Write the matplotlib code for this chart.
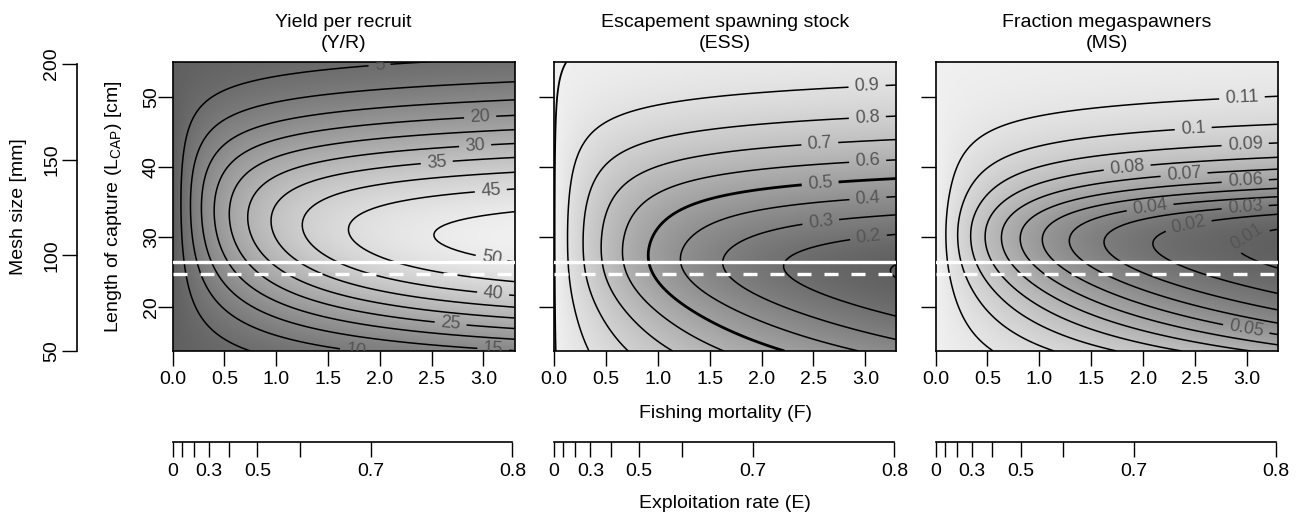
import numpy as np
import matplotlib
matplotlib.use("Agg")
import matplotlib.pyplot as plt
from matplotlib.colors import LinearSegmentedColormap

plt.rcParams['font.family'] = ['Liberation Sans', 'DejaVu Sans']
plt.rcParams['mathtext.fontset'] = 'custom'
plt.rcParams['mathtext.rm'] = 'Liberation Sans'
plt.rcParams['mathtext.it'] = 'Liberation Sans:italic'

# ---------------- data ----------------
F_RANGE = (0.0, 3.3)
L_RANGE = (13.67, 55.0)
F_TICKS = [0.0, 0.5, 1.0, 1.5, 2.0, 2.5, 3.0]
L_TICKS = [20, 30, 40, 50]
MESH_TICKS = [50, 100, 150, 200]
MESH_TO_LCAP = 0.2733
E_TICKS = [0.0, 0.1, 0.2, 0.3, 0.4, 0.5, 0.6, 0.7, 0.8]
E_TICK_LABELS = ['0', '', '', '0.3', '', '0.5', '', '0.7', '0.8']

TITLES = ['Yield per recruit\n(Y/R)',
          'Escapement spawning stock\n(ESS)',
          'Fraction megaspawners\n(MS)']

YR_LEVELS = [5, 10, 15, 20, 25, 30, 35, 40, 45, 50]
ESS_LEVELS = [0.1, 0.2, 0.3, 0.4, 0.5, 0.6, 0.7, 0.8, 0.9]
ESS_EDGE_LEVEL = [0.995]
MS_LEVELS = [0.01, 0.02, 0.03, 0.04, 0.05, 0.06, 0.07, 0.08, 0.09, 0.1, 0.11]

L_SOLID = 26.4      # solid white line (cm)
L_DASHED = 24.7     # dashed white line (cm)

# population model parameters (estimated to reproduce the isopleths)
M_NAT = 0.82        # natural mortality, from the E = F/(F+M) axis
L_INF = 56.5
K_VB = 0.275
T_REC = 0.335
L_MAT = 25.6
SEL_CV_LEFT = 0.065
SEL_CV_RIGHT = 0.145
YR_MAX = 52.2

# ---------------- layout (pixels) ----------------
W_PX, H_PX = 1298, 517
PANEL_X = [(172.5, 514.5), (554.0, 896.5), (935.5, 1278.0)]
PANEL_Y = (61.7, 351.0)
E_AXIS_Y = 442.3
FS = 14
LABEL_FS = 13
LABEL_COLOR = '#555555'

YR_LABEL_POS = {5: (2.0, 54.0), 10: (2.52, 13.9), 15: (3.10, 15.1), 20: (2.97, 46.7),
                25: (2.69, 18.6), 30: (2.92, 43.0), 35: (2.55, 40.6), 40: (3.10, 22.9),
                45: (3.07, 36.8), 50: (3.10, 28.8)}
ESS_LABEL_POS = {0.2: (3.02, 31.1), 0.3: (2.56, 33.3), 0.4: (3.02, 36.5), 0.5: (2.56, 38.4),
                 0.6: (3.02, 41.4), 0.7: (2.56, 43.5), 0.8: (3.02, 46.8), 0.9: (3.02, 50.3)}
MS_LABEL_POS = {0.01: (2.98, 30.7), 0.02: (2.43, 32.2), 0.03: (2.98, 35.0), 0.04: (2.06, 35.0),
                0.05: (2.98, 15.7), 0.06: (2.98, 39.2), 0.07: (2.39, 39.8), 0.08: (1.84, 40.8),
                0.09: (2.98, 44.3), 0.1: (2.48, 46.2), 0.11: (2.95, 50.7)}


def axrect(x0, y0, x1, y1):
    return [x0 / W_PX, 1 - y1 / H_PX, (x1 - x0) / W_PX, (y1 - y0) / H_PX]


def compute_fields():
    F = np.linspace(F_RANGE[0], F_RANGE[1], 111)
    Lc = np.linspace(L_RANGE[0], L_RANGE[1], 125)
    dt = 0.01
    t = np.arange(T_REC, 32.0, dt)
    L = L_INF * (1 - np.exp(-K_VB * t))
    W = L ** 3
    base = np.exp(-M_NAT * (t - T_REC))
    l_opt = L_INF * 3 / (3 + M_NAT / K_VB)
    mat = (L >= L_MAT).astype(float)
    mega = (L >= 1.1 * l_opt).astype(float)
    yr = np.empty((F.size, Lc.size))
    ssb = np.empty_like(yr)
    ms = np.empty_like(yr)
    for j, lc in enumerate(Lc):
        sd = np.where(L < lc, SEL_CV_LEFT * lc, SEL_CV_RIGHT * lc)
        S = np.exp(-0.5 * ((L - lc) / sd) ** 2)
        C = np.concatenate([[0.0], np.cumsum(S[:-1])]) * dt
        N = base[None, :] * np.exp(-np.outer(F, C))
        yr[:, j] = (N * (F[:, None] * (S * W)[None, :])).sum(1) * dt
        ssb[:, j] = (N * (W * mat)[None, :]).sum(1)
        ms[:, j] = (N * mega[None, :]).sum(1) / N.sum(1)
    ess = ssb / ssb[0][None, :]
    yr = yr * (YR_MAX / yr.max())
    return F, Lc, yr, ess, ms


F, Lc, YR, ESS, MS = compute_fields()

fig = plt.figure(figsize=(W_PX / 100, H_PX / 100), dpi=100)
cmap = LinearSegmentedColormap.from_list('greys', ['#606060', '#f0f0f0'])

fields = [YR, ESS, MS]
levels_all = [YR_LEVELS, ESS_LEVELS, MS_LEVELS]
label_pos = [YR_LABEL_POS, ESS_LABEL_POS, MS_LABEL_POS]


def fmt(v):
    return f'{v:g}'


def e_to_f(e):
    return e * M_NAT / (1 - e)


for i in range(3):
    x0, x1 = PANEL_X[i]
    ax = fig.add_axes(axrect(x0, PANEL_Y[0], x1, PANEL_Y[1]))
    Z = fields[i]
    ax.imshow(Z.T, origin='lower', aspect='auto', cmap=cmap,
              extent=[F[0], F[-1], Lc[0], Lc[-1]], interpolation='bilinear',
              vmin=Z.min(), vmax=Z.max())
    for lv in levels_all[i]:
        lw = 2.0 if (i == 1 and abs(lv - 0.5) < 1e-9) else 1.1
        cs = ax.contour(F, Lc, Z.T, levels=[lv], colors='k', linewidths=lw)
        if lv in label_pos[i] and len(cs.allsegs[0]) > 0:
            texts = ax.clabel(cs, manual=[label_pos[i][lv]], inline=True, inline_spacing=6,
                              fmt=fmt, fontsize=LABEL_FS, colors=LABEL_COLOR)
            for txt in texts:
                txt.set_clip_box(ax.bbox)
                txt.set_clip_on(True)
    if i == 1:
        ax.contour(F, Lc, Z.T, levels=ESS_EDGE_LEVEL, colors='k', linewidths=1.3)
    ax.axhline(L_SOLID, color='white', lw=2.4, zorder=5)
    ax.axhline(L_DASHED, color='white', lw=2.4, linestyle=(0, (4.2, 3.9)), zorder=5)

    ax.set_xlim(F_RANGE)
    ax.set_ylim(L_RANGE)
    ax.set_xticks(F_TICKS)
    ax.set_xticklabels([f'{v:.1f}' for v in F_TICKS])
    ax.set_yticks(L_TICKS)
    ax.tick_params(direction='out', length=11, width=1.0, labelsize=FS)
    ax.tick_params(axis='x', pad=3.5)
    if i == 0:
        ax.set_yticklabels([str(v) for v in L_TICKS])
        ax.tick_params(axis='y', labelrotation=90, pad=-2.0)
        for lab in ax.get_yticklabels():
            lab.set_va('center')
    else:
        ax.set_yticklabels([])
    for s in ax.spines.values():
        s.set_linewidth(1.2)

    fig.text(((x0 + x1) / 2) / W_PX, 1 - 33 / H_PX, TITLES[i], ha='center', va='center',
             fontsize=FS, linespacing=1.3)

    # exploitation-rate axis
    ea = fig.add_axes(axrect(x0, E_AXIS_Y - 1, x1, E_AXIS_Y))
    ea.patch.set_visible(False)
    for side in ['top', 'left', 'right']:
        ea.spines[side].set_visible(False)
    ea.spines['bottom'].set_linewidth(1.2)
    ea.set_xlim(F_RANGE)
    ea.set_yticks([])
    ea.set_xticks([e_to_f(e) for e in E_TICKS])
    ea.set_xticklabels(E_TICK_LABELS)
    ea.spines['bottom'].set_bounds(e_to_f(E_TICKS[0]), e_to_f(E_TICKS[-1]))
    ea.tick_params(axis='x', direction='out', length=11, width=1.0, labelsize=FS, pad=4.2)

# mesh size axis
ma = fig.add_axes(axrect(77, PANEL_Y[0], 78, PANEL_Y[1]))
ma.patch.set_visible(False)
for side in ['top', 'bottom', 'right']:
    ma.spines[side].set_visible(False)
ma.spines['left'].set_linewidth(1.2)
ma.set_ylim(L_RANGE[0] / MESH_TO_LCAP, L_RANGE[1] / MESH_TO_LCAP)
ma.set_xticks([])
ma.set_yticks(MESH_TICKS)
ma.set_yticklabels([str(v) for v in MESH_TICKS])
ma.spines['left'].set_bounds(MESH_TICKS[0], MESH_TICKS[-1])
ma.tick_params(axis='y', direction='out', length=11, width=1.0, labelsize=FS,
               labelrotation=90, pad=1.0)
for lab in ma.get_yticklabels():
    lab.set_va('center')

ymid = 1 - ((PANEL_Y[0] + PANEL_Y[1]) / 2) / H_PX
fig.text(19 / W_PX, ymid, 'Mesh size [mm]', rotation=90, ha='center', va='center', fontsize=FS)
fig.text(113 / W_PX, ymid, 'Length of capture (L$_{\\mathrm{CAP}}$) [cm]', rotation=90,
         ha='center', va='center', fontsize=FS)
fig.text(725.3 / W_PX, 1 - 414 / H_PX, 'Fishing mortality (F)', ha='center', va='center',
         fontsize=FS)
fig.text(725.3 / W_PX, 1 - 503 / H_PX, 'Exploitation rate (E)', ha='center', va='center',
         fontsize=FS)

fig.savefig('out.png', dpi=100)
